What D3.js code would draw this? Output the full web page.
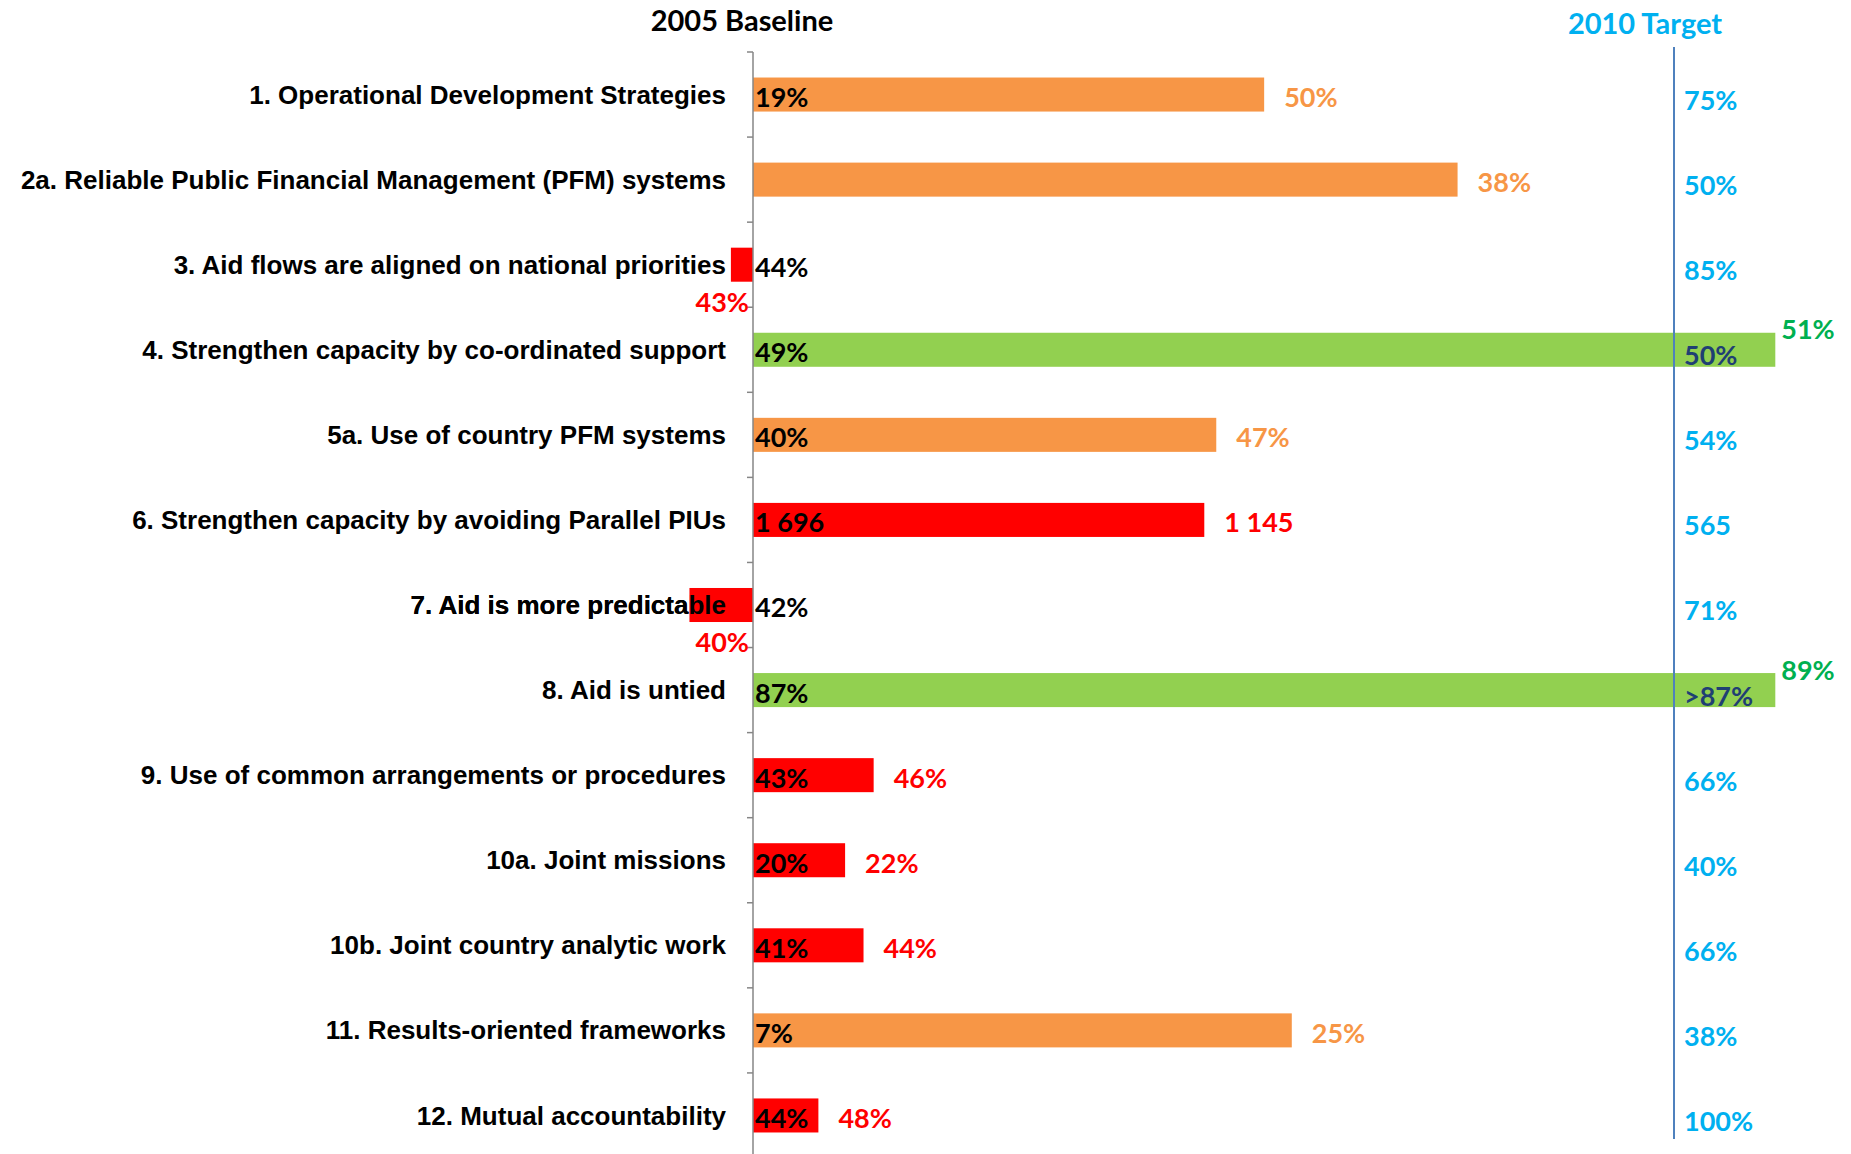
<!DOCTYPE html>
<html>
<head>
<meta charset="utf-8">
<script src="https://cdn.jsdelivr.net/npm/d3@7"></script>
<style>
  body { margin: 0; background: #fff; }
  .cat { font-family: "Liberation Sans", Arial, sans-serif; font-weight: bold; font-size: 26px; fill: #000; }
  .num { font-family: Lato, "Open Sans", sans-serif; font-weight: bold; font-size: 27px; }
</style>
</head>
<body>
<svg id="chart"></svg>
<script>
var w = 1851, h = 1154;

var categories = ['1. Operational Development Strategies',
  '2a. Reliable Public Financial Management (PFM) systems',
  '3. Aid flows are aligned on national priorities',
  '4. Strengthen capacity by co-ordinated support',
  '5a. Use of country PFM systems',
  '6. Strengthen capacity by avoiding Parallel PIUs',
  '7. Aid is more predictable',
  '8. Aid is untied',
  '9. Use of common arrangements or procedures',
  '10a. Joint missions',
  '10b. Joint country analytic work',
  '11. Results-oriented frameworks',
  '12. Mutual accountability'];

// 2005 baseline, latest value and 2010 target as printed on the chart
var baseline = ['19%', '', '44%', '49%', '40%', '1 696', '42%', '87%', '43%', '20%', '41%', '7%', '44%'];
var current  = ['50%', '38%', '43%', '51%', '47%', '1 145', '40%', '89%', '46%', '22%', '44%', '25%', '48%'];
var target   = ['75%', '50%', '85%', '50%', '54%', '565', '71%', '>87%', '66%', '40%', '66%', '38%', '100%'];

// bar length = share of the way from baseline to target
var progress = [0.555, 0.765, -0.024, 1.11, 0.503, 0.49, -0.069, 1.11, 0.131, 0.10, 0.12, 0.585, 0.071];
var barStatus = ['partial', 'partial', 'off', 'met', 'partial', 'off', 'off', 'met', 'off', 'off', 'off', 'partial', 'off'];

var barColor = {partial: '#F79646', off: '#FF0000', met: '#92D050'};
var labColor = {partial: '#F79646', off: '#FF0000', met: '#00B050'};

var data = categories.map(function(c, i){
  return {cat: c, base: baseline[i], cur: current[i], tgt: target[i], p: progress[i], st: barStatus[i]};
});

var svg = d3.select('#chart').attr('width', w).attr('height', h);

var x = d3.scaleLinear().domain([0, 1]).range([753, 1674]);
var y = d3.scaleBand().domain(categories).range([52, 1158]);
var barH = y.bandwidth() * 0.4;
function mid(d){ return y(d.cat) + y.bandwidth() / 2; }

// headers
svg.append('text').attr('class', 'num')
  .attr('x', 742).attr('y', 21).attr('dy', '0.35em')
  .attr('text-anchor', 'middle').style('font-size', '29px').attr('fill', '#000')
  .text('2005 Baseline');
svg.append('text').attr('class', 'num')
  .attr('x', 1645).attr('y', 24).attr('dy', '0.35em')
  .attr('text-anchor', 'middle').style('font-size', '29px').attr('fill', '#00B0F0')
  .text('2010 Target');

// category labels (bars are drawn over them, as in the original)
svg.selectAll('.cat').data(data).enter().append('text')
  .attr('class', 'cat')
  .attr('x', x(0) - 27)
  .attr('y', mid)
  .attr('dy', '0.35em')
  .attr('text-anchor', 'end')
  .text(function(d){ return d.cat; });

// bars
svg.selectAll('.bar').data(data).enter().append('rect')
  .attr('class', 'bar')
  .attr('x', function(d){ return Math.min(x(0), x(d.p)); })
  .attr('y', function(d){ return mid(d) - barH / 2; })
  .attr('width', function(d){ return Math.abs(x(d.p) - x(0)); })
  .attr('height', barH)
  .attr('fill', function(d){ return barColor[d.st]; });

// label 7 is still readable on top of its bar
svg.selectAll('.catTop').data(data.filter(function(d){ return d.p < -0.05; })).enter().append('text')
  .attr('class', 'cat')
  .attr('x', x(0) - 27)
  .attr('y', mid)
  .attr('dy', '0.35em')
  .attr('text-anchor', 'end')
  .text(function(d){ return d.cat; });

// category axis
var ax = svg.append('g').attr('class', 'catAxis');
ax.append('line')
  .attr('x1', x(0)).attr('x2', x(0))
  .attr('y1', y.range()[0]).attr('y2', h)
  .attr('stroke', '#868686').attr('stroke-width', 1.5);
ax.selectAll('.tick').data(categories).enter().append('line')
  .attr('x1', x(0) - 6).attr('x2', x(0))
  .attr('y1', function(c){ return y(c); })
  .attr('y2', function(c){ return y(c); })
  .attr('stroke', '#868686').attr('stroke-width', 1.5);

// target line
svg.append('line')
  .attr('x1', x(1)).attr('x2', x(1))
  .attr('y1', 47).attr('y2', 1139)
  .attr('stroke', '#4F81BD').attr('stroke-width', 2);

// baseline values
svg.selectAll('.base').data(data).enter().append('text')
  .attr('class', 'num base')
  .attr('x', x(0) + 2)
  .attr('y', function(d){ return mid(d) + 3; })
  .attr('dy', '0.35em')
  .attr('fill', '#000')
  .text(function(d){ return d.base; });

// latest values
svg.selectAll('.cur').data(data).enter().append('text')
  .attr('class', 'num cur')
  .attr('x', function(d){
    if (d.p < 0) return x(0) - 4;
    if (d.st == 'met') return x(d.p) + 6;
    return x(d.p) + 20;
  })
  .attr('y', function(d){
    if (d.p < 0) return mid(d) + 38;
    if (d.st == 'met') return mid(d) - 20;
    return mid(d) + 3;
  })
  .attr('dy', '0.35em')
  .attr('text-anchor', function(d){ return d.p < 0 ? 'end' : 'start'; })
  .attr('fill', function(d){ return labColor[d.st]; })
  .text(function(d){ return d.cur; });

// target values
svg.selectAll('.tgt').data(data).enter().append('text')
  .attr('class', 'num tgt')
  .attr('x', x(1) + 10)
  .attr('y', function(d){ return mid(d) + 6; })
  .attr('dy', '0.35em')
  .attr('fill', function(d){ return d.st == 'met' ? '#1F3F73' : '#00B0F0'; })
  .text(function(d){ return d.tgt; });
</script>
</body>
</html>
